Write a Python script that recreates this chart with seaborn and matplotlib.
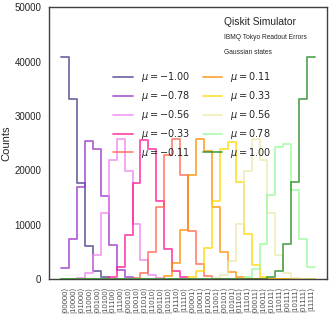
import numpy as np
import pandas as pd
import seaborn as sns
import matplotlib.pyplot as plt

# basis states in the order qiskit prints them (bit-reversed)
labels = ['|' + format(i, '05b')[::-1] + '⟩' for i in range(32)]
mus = [-1.00, -0.78, -0.56, -0.33, -0.11, 0.11, 0.33, 0.56, 0.78, 1.00]
colors = ['darkslateblue', 'darkorchid', 'violet', 'deeppink', 'tomato',
          'darkorange', 'gold', 'palegoldenrod', 'palegreen', 'forestgreen']

# counts, one list per mu (32 states each)
c_m100 = [40900, 33200, 17700, 6100, 1450, 320, 60, 0, 0, 0, 0, 0, 0, 0, 0, 0,
          0, 0, 0, 0, 0, 0, 0, 0, 0, 0, 0, 0, 0, 0, 0, 0]
c_m078 = [2080, 7360, 16900, 25300, 24000, 15300, 6300, 1650, 400, 60, 0, 0, 0, 0, 0, 0,
          0, 0, 0, 0, 0, 0, 0, 0, 0, 0, 0, 0, 0, 0, 0, 0]
c_m056 = [0, 50, 250, 1160, 4500, 12100, 21900, 25800, 19900, 10200, 3400, 720, 120, 0, 0, 0,
          0, 0, 0, 0, 0, 0, 0, 0, 0, 0, 0, 0, 0, 0, 0, 0]
c_m033 = [0, 0, 0, 0, 0, 60, 400, 2200, 8000, 17700, 25600, 23900, 14400, 5600, 1500, 280,
          40, 0, 0, 0, 0, 0, 0, 0, 0, 0, 0, 0, 0, 0, 0, 0]
c_m011 = [0, 0, 0, 0, 0, 0, 0, 0, 20, 100, 1150, 5000, 13200, 22800, 25700, 19100,
          8900, 2700, 550, 80, 0, 0, 0, 0, 0, 0, 0, 0, 0, 0, 0, 0]
c_p011 = [0, 0, 0, 0, 0, 0, 0, 0, 0, 0, 0, 0, 80, 530, 2900, 9000,
          19100, 25700, 23600, 13300, 5000, 1200, 300, 40, 0, 0, 0, 0, 0, 0, 0, 0]
c_p033 = [0, 0, 0, 0, 0, 0, 0, 0, 0, 0, 0, 0, 0, 0, 0, 40,
          300, 1450, 5700, 14400, 24000, 25200, 17900, 8200, 2500, 420, 60, 0, 0, 0, 0, 0]
c_p056 = [0, 0, 0, 0, 0, 0, 0, 0, 0, 0, 0, 0, 0, 0, 0, 0,
          0, 0, 20, 120, 700, 3300, 10100, 19800, 25700, 21900, 12200, 4500, 1150, 200, 30, 0]
c_p078 = [0, 0, 0, 0, 0, 0, 0, 0, 0, 0, 0, 0, 0, 0, 0, 0,
          0, 0, 0, 0, 0, 0, 60, 400, 1800, 6400, 15500, 24200, 24900, 16300, 7400, 2250]
c_p100 = [0, 0, 0, 0, 0, 0, 0, 0, 0, 0, 0, 0, 0, 0, 0, 0,
          0, 0, 0, 0, 0, 0, 0, 0, 0, 60, 420, 1500, 6400, 17800, 33100, 40800]

all_counts = [c_m100, c_m078, c_m056, c_m033, c_m011,
              c_p011, c_p033, c_p056, c_p078, c_p100]

sns.set_style('white')
plt.rcParams['font.family'] = ['Liberation Sans', 'DejaVu Sans']
plt.rcParams['axes.edgecolor'] = '0.25'
plt.rcParams['axes.linewidth'] = 1.0

fig = plt.figure(figsize=(3.32, 3.17), dpi=100)
ax = fig.add_axes([0.148, 0.12, 0.837, 0.857])

for mu, col, counts in zip(mus, colors, all_counts):
    df = pd.DataFrame({'state': np.arange(32), 'counts': counts})
    sns.histplot(data=df, x='state', weights='counts', discrete=True,
                 element='step', fill=False, color=col, alpha=0.75,
                 linewidth=1.3, label=r'$\mu = %.2f$' % mu, ax=ax)

ax.set_xlim(-2.0, 33.0)
ax.set_ylim(0, 50000)
ax.set_xticks(np.arange(32))
ax.set_xticklabels(labels, rotation=90, fontsize=5.6, color='0.3')
ax.set_yticks([0, 10000, 20000, 30000, 40000, 50000])
ax.tick_params(axis='y', labelsize=7, pad=2)
ax.tick_params(axis='x', pad=2)
ax.set_xlabel('')
ax.set_ylabel('Counts', fontsize=8, labelpad=2)

ax.legend(ncol=2, frameon=False, fontsize=7, loc='upper left',
          bbox_to_anchor=(0.2, 0.8), handlelength=2.0, columnspacing=1.3,
          labelspacing=0.5)

ax.text(0.63, 0.945, 'Qiskit Simulator', transform=ax.transAxes,
        fontsize=7.4, va='center', ha='left')
ax.text(0.63, 0.89, 'IBMQ Tokyo Readout Errors', transform=ax.transAxes,
        fontsize=4.8, va='center', ha='left')
ax.text(0.63, 0.835, 'Gaussian states', transform=ax.transAxes,
        fontsize=4.8, va='center', ha='left')

fig.savefig('out.png', dpi=100)
